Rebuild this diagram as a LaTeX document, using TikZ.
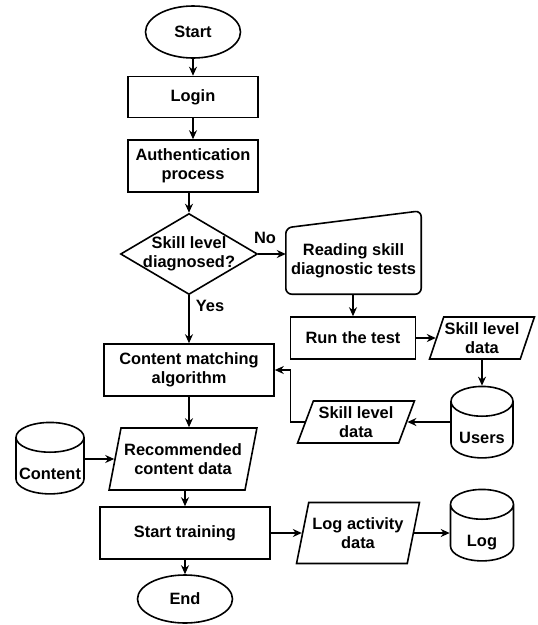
\documentclass[tikz,border=0pt]{standalone}
\usepackage{fontspec}
\setmainfont{Liberation Sans}
\usetikzlibrary{shapes.geometric,arrows.meta}

\begin{document}
\begin{tikzpicture}[x=1pt, y=-1pt,
	every node/.style = {align=center, inner sep=0pt,
		font=\fontsize{16.4}{19}\selectfont\bfseries},
	box/.style = {shape=rectangle, draw, line width=1.6pt},
	term/.style = {shape=ellipse, draw, line width=1.6pt},
	io/.style = {shape=trapezium, draw, line width=1.6pt,
		trapezium left angle=70, trapezium right angle=110,
		trapezium stretches=true},
	db/.style = {shape=cylinder, draw, line width=1.6pt,
		shape border rotate=90, aspect=0.48,
		text width=62pt, text height=26pt, text depth=0pt},
	flow/.style = {line width=1.6pt, -{Stealth[length=9pt,width=8pt]}}]
	\useasboundingbox (0,0) rectangle (538,625);

	% main column
	\node[term, minimum width=95, minimum height=52] (start) at (193,32) {Start};
	\node[box, minimum width=130, minimum height=41] (login) at (193,97) {Login};
	\node[box, minimum width=130, minimum height=52] (auth) at (193,166) {Authentication\\process};
	\node[shape=diamond, draw, line width=1.6pt, minimum width=137, minimum height=81,
		label=center:{Skill level\\diagnosed?}] (diag) at (189,254) {};
	\node[box, minimum width=170, minimum height=52] (match) at (189,370) {Content matching\\algorithm};
	\node[io, minimum width=148, minimum height=62] (rec) at (183,459) {Recommended\\content data};
	\node[db, minimum width=68] (content) at (50,466) {Content};
	\node[box, minimum width=170, minimum height=52] (train) at (185,533) {Start training};
	\node[term, minimum width=95, minimum height=48] (end) at (185,599) {End};

	% diagnosis branch
	\node[minimum width=135, minimum height=66] (read) at (353.5,261) {Reading skill\\diagnostic tests};
	\draw[line width=1.6pt, rounded corners=6pt] (read.south west) -- (read.north west)
		-- ([yshift=17pt]read.north east) -- (read.south east) -- cycle;
	\node[box, minimum width=125, minimum height=42] (runtest) at (353,338) {Run the test};
	\node[io, minimum width=105, minimum height=42, trapezium left angle=66,
		trapezium right angle=114] (skill1) at (482,338) {Skill level\\data};
	\node[db, minimum width=62] (users) at (482,430) {Users};
	\node[io, minimum width=117, minimum height=42, trapezium left angle=66,
		trapezium right angle=114] (skill2) at (356,422) {Skill level\\data};

	% logging
	\node[io, minimum width=123, minimum height=61] (logdata) at (358,533) {Log activity\\data};
	\node[db, minimum width=63] (log) at (482,533) {Log};

	\node (yes) at (210,306) {Yes};
	\node (no) at (265,238) {No};

	\draw[flow] (start) -- (login);
	\draw[flow] (login) -- (auth);
	\draw[flow] (auth.south -| diag) -- (diag.north);
	\draw[flow] (diag.south) -- (match.north);
	\draw[flow] (diag.east) -- (diag.east -| read.west);
	\draw[flow] (read.south -| runtest) -- (runtest.north);
	\draw[flow] (runtest.east) -- (runtest.east -| skill1.west);
	\draw[flow] (skill1.south) -- (users.north);
	\draw[flow] (skill2.east -| users.west) -- (skill2.east);
	\draw[flow] (skill2.west) -- ++(-14,0) |- (match.east);
	\draw[flow] (match.south) -- (match.south |- rec.north);
	\draw[flow] (rec.west -| content.east) -- (rec.west);
	\draw[flow] (rec.south -| train) -- (train.north);
	\draw[flow] (train) -- (end);
	\draw[flow] (train.east) -- (logdata.west);
	\draw[flow] (logdata.east) -- (logdata.east -| log.west);
\end{tikzpicture}
\end{document}
